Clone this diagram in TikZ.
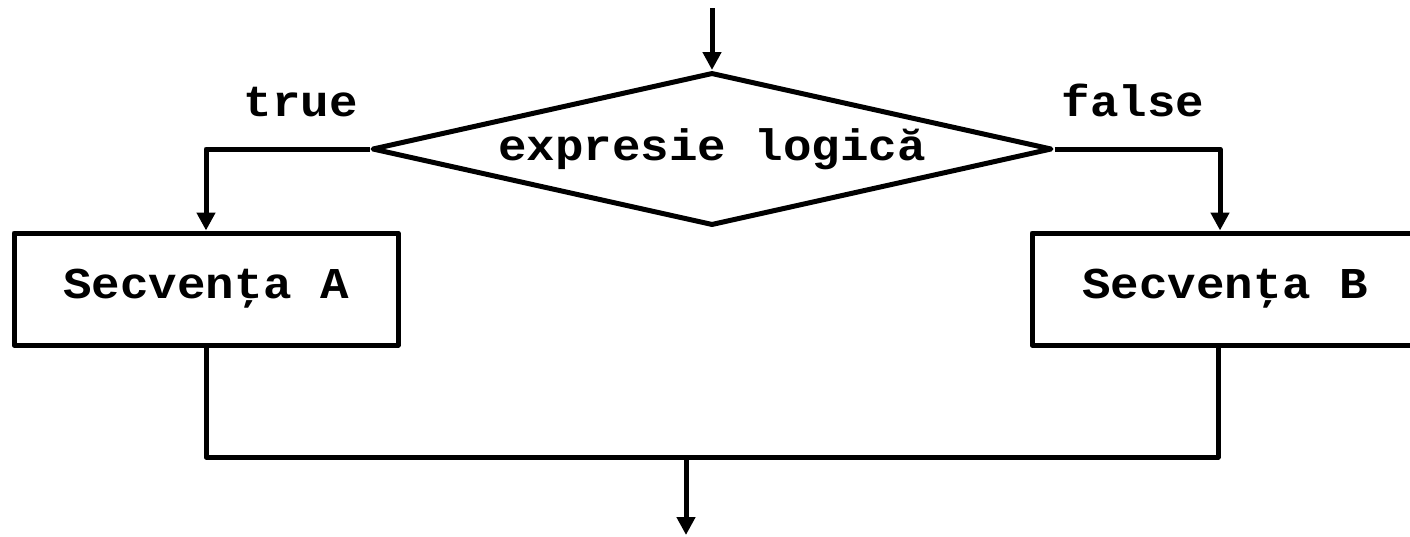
\documentclass[tikz,border=0pt]{standalone}
\usepackage{fontspec}
\setmainfont{Liberation Mono}[FakeStretch=1.08]
\usetikzlibrary{shapes.geometric,arrows.meta}
\tikzset{
  line/.style={line width=5pt, line join=round},
  arr/.style={line, -{Triangle[length=18pt,width=18pt]}},
  box/.style={line, draw, rectangle, minimum width=384pt, minimum height=112pt, inner sep=0pt, font=\fontsize{44}{50}\selectfont\bfseries},
  cond/.style={line, draw, diamond, minimum width=680pt, minimum height=153pt, aspect=4.44, inner sep=0pt, font=\fontsize{44}{50}\selectfont\bfseries},
  lbl/.style={anchor=base, inner sep=0pt, font=\fontsize{44}{50}\selectfont\bfseries}
}
\begin{document}
\begin{tikzpicture}[x=1pt,y=-1pt]
\useasboundingbox (0,0) rectangle (1410,536);
\clip (0,0) rectangle (1410,536);
\coordinate (start) at (712,8);
\node[cond] (d) at (712,149) {expresie logică};
\node[box] (A) at (206,289) {Secvenţa A};
\node[box, minimum width=386pt] (B) at (1225,289) {Secvenţa B};
\node[lbl] (t) at (301,116) {true};
\node[lbl] (f) at (1133,116) {false};
\coordinate (j) at (686,457);
\coordinate (end) at (686,535);
\draw[arr] (start) -- (d.north);
\draw[arr] (d.west) -| (A.north);
\draw[arr] (d.east) -| ([xshift=-5pt]B.north);
\draw[line] (A.south) |- ([xshift=-7pt]B.south |- j) -- ([xshift=-7pt]B.south);
\draw[arr] (j) -- (end);
\end{tikzpicture}
\end{document}
